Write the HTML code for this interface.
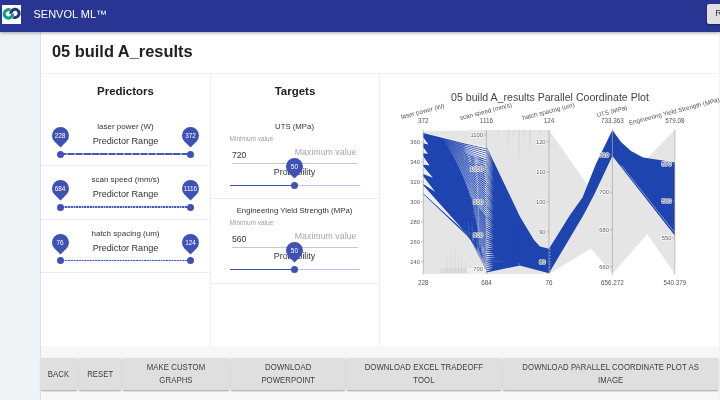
<!DOCTYPE html>
<html>
<head>
<meta charset="utf-8">
<style>
*{box-sizing:border-box;margin:0;padding:0}
html,body{width:720px;height:400px;overflow:hidden;background:#fafafa;font-family:"Liberation Sans",sans-serif;color:#212121}
.abs{position:absolute}
#wrap{position:absolute;left:0;top:0;width:720px;height:400px;overflow:hidden;will-change:transform;transform:translateZ(0)}
#hdr{left:0;top:0;width:720px;height:31.6px;background:#283593;box-shadow:0 1px 3px rgba(0,0,0,.35);z-index:5}
#logo{left:2px;top:5px;width:19px;height:19px;background:#fff}
#brand{left:33.5px;top:8.3px;font-size:11px;color:#fff;white-space:nowrap;line-height:12px}
#rbtn{left:707px;top:4px;width:20px;height:19.5px;background:#e0e0e0;border-radius:2px;box-shadow:0 1px 2px rgba(0,0,0,.4);font-size:9px;color:#333;line-height:19.5px;padding-left:8.3px}
#side{left:0;top:31px;width:720px;height:369px;background:#eff3f6}
#main{left:40.5px;top:31px;width:678px;height:315.3px;background:#fff}
#title{left:52px;top:41.3px;font-size:16.4px;font-weight:bold;line-height:20px;white-space:nowrap;color:#212121}
.hl{background:#ebebeb;height:1.1px}
.vl{background:#ededed;width:1.2px}
.ph{font-size:11.5px;font-weight:bold;line-height:14px;text-align:center;color:#212121}
.lbl{font-size:8px;line-height:10px;text-align:center;color:#333;white-space:nowrap}
.rng{font-size:9.1px;line-height:12px;text-align:center;color:#333;white-space:nowrap}
.pin{width:17px;height:17px;margin:-0.2px 0 0 -0.2px;border-radius:50% 50% 50% 0;background:#3f51b5;transform:rotate(-45deg)}
.pint{width:16.6px;height:16.6px;font-size:6.4px;line-height:16.6px;padding-top:0.8px;color:#fff;text-align:center}
.dot{width:7px;height:7px;margin:-0.2px 0 0 -0.2px;border-radius:50%;background:#3f51b5}
.trk{height:1.5px;margin-top:-0.15px}
.d1{background:repeating-linear-gradient(90deg,#4757b8 0,#4757b8 6.3px,#8f9ad5 6.3px,#8f9ad5 8.1px)}
.d2{background:repeating-linear-gradient(90deg,#4858b8 0,#4858b8 1.7px,#b4bbe3 1.7px,#b4bbe3 2.72px)}

.tl{font-size:7.8px;line-height:10px;text-align:center;color:#333;white-space:nowrap}
.mn{font-size:6.5px;line-height:8px;color:#a2a2a2;white-space:nowrap}
.val{font-size:9.8px;line-height:11px;color:#333;white-space:nowrap;transform:scaleX(0.88);transform-origin:0 0}
.mx{font-size:8.8px;line-height:11px;color:#a6a6a6;white-space:nowrap}
.ul{height:1px;background:#c9c9c9}
.pr{font-size:8.9px;line-height:11px;text-align:center;color:#333;white-space:nowrap}
.bt{display:inline-block;transform:scaleX(0.86);white-space:nowrap}
#bar{left:40.5px;top:346.2px;width:678px;height:54px;background:#f7f7f7}
.btn{top:357.6px;height:32.5px;background:#dfdfdf;border-radius:1px;box-shadow:0 1px 2px rgba(0,0,0,.35);font-size:9px;color:#3d3d3d;text-align:center;line-height:13.25px;padding-top:0.6px;display:flex;align-items:center;justify-content:center;letter-spacing:0.1px}
</style>
</head>
<body>
<div id="wrap">
<div id="side" class="abs"></div>
<div id="main" class="abs"></div>
<div id="hdr" class="abs">
  <div id="logo" class="abs">
    <svg width="19" height="19" viewBox="0 0 19 19">
      <path d="M11.08 12.02 A4.10 4.10 0 1 0 8.92 8.76" fill="none" stroke="#1c3b72" stroke-width="3.1"/>
      <path d="M8.37 5.19 A4.20 4.20 0 1 0 10.58 8.53" fill="none" stroke="#fff" stroke-width="3.9"/>
      <path d="M8.37 5.19 A4.20 4.20 0 1 0 10.58 8.53" fill="none" stroke="#1a9b85" stroke-width="3.2"/>
      <path d="M11.08 12.02 A4.10 4.10 0 1 0 8.92 8.76" fill="none" stroke="#fff" stroke-width="3.9" stroke-dasharray="0 17 8.5 100"/>
      <path d="M11.08 12.02 A4.10 4.10 0 1 0 8.92 8.76" fill="none" stroke="#1c3b72" stroke-width="3.1" stroke-dasharray="0 16.7 9.1 100"/>
    </svg>
  </div>
  <div id="brand" class="abs">SENVOL ML&#8482;</div>
  <div id="rbtn" class="abs">R</div>
</div>
<div id="title" class="abs">05 build A_results</div>

<!-- panel borders -->
<div class="abs hl" style="left:40.5px;top:73.2px;width:678px;background:#f1f1f1"></div>
<div class="abs" style="left:40px;top:31px;width:0.9px;height:369px;background:#dde0e3;z-index:3"></div>
<div class="abs vl" style="left:210px;top:73px;height:273px"></div>
<div class="abs vl" style="left:379px;top:73px;height:273px"></div>

<!-- Predictors -->
<div class="abs ph" style="left:41px;top:84px;width:169px">Predictors</div>
<div class="abs lbl" style="left:41px;top:122px;width:169px">laser power (W)</div>
<div class="abs rng" style="left:41px;top:135px;width:169px">Predictor Range</div>
<div class="abs hl" style="left:41px;top:165.4px;width:169px"></div>
<div class="abs lbl" style="left:41px;top:175px;width:169px">scan speed (mm/s)</div>
<div class="abs rng" style="left:41px;top:188px;width:169px">Predictor Range</div>
<div class="abs hl" style="left:41px;top:218.5px;width:169px"></div>
<div class="abs lbl" style="left:41px;top:228.5px;width:169px">hatch spacing (um)</div>
<div class="abs rng" style="left:41px;top:241.5px;width:169px">Predictor Range</div>
<div class="abs hl" style="left:41px;top:271.9px;width:169px"></div>

<!-- predictor sliders -->
<div class="abs trk d1" style="left:60px;top:153.4px;width:130.5px"></div>
<div class="abs pin" style="left:51.7px;top:127.1px"></div><div class="abs pint" style="left:51.7px;top:127.1px">228</div>
<div class="abs pin" style="left:182.2px;top:127.1px"></div><div class="abs pint" style="left:182.2px;top:127.1px">372</div>
<div class="abs dot" style="left:56.7px;top:150.7px"></div>
<div class="abs dot" style="left:187.2px;top:150.7px"></div>
<div class="abs trk d2" style="left:60px;top:206.6px;width:130.5px"></div>
<div class="abs pin" style="left:51.7px;top:180.4px"></div><div class="abs pint" style="left:51.7px;top:180.4px">684</div>
<div class="abs pin" style="left:182.2px;top:180.4px"></div><div class="abs pint" style="left:182.2px;top:180.4px">1116</div>
<div class="abs dot" style="left:56.7px;top:203.9px"></div>
<div class="abs dot" style="left:187.2px;top:203.9px"></div>
<div class="abs trk d2" style="left:60px;top:260.0px;width:130.5px"></div>
<div class="abs pin" style="left:51.7px;top:233.9px"></div><div class="abs pint" style="left:51.7px;top:233.9px">76</div>
<div class="abs pin" style="left:182.2px;top:233.9px"></div><div class="abs pint" style="left:182.2px;top:233.9px">124</div>
<div class="abs dot" style="left:56.7px;top:257.3px"></div>
<div class="abs dot" style="left:187.2px;top:257.3px"></div>
<!-- Targets -->
<div class="abs ph" style="left:211px;top:84px;width:168px">Targets</div>

<div class="abs tl" style="left:211px;top:121.7px;width:167px">UTS (MPa)</div>
<div class="abs mn" style="left:229.6px;top:134.8px">Minimum value</div>
<div class="abs val" style="left:232.2px;top:148.9px">720</div>
<div class="abs mx" style="left:294.8px;top:146.7px">Maximum value</div>
<div class="abs ul" style="left:231.5px;top:162.7px;width:126.5px"></div>
<div class="abs pr" style="left:211px;top:167.0px;width:167px">Probability</div>
<div class="abs" style="left:229.6px;top:185.0px;width:65px;height:1.1px;background:#3f51b5"></div>
<div class="abs" style="left:294.6px;top:185.0px;width:65.6px;height:1.1px;background:#c0c6ea"></div>
<div class="abs pin" style="left:286.1px;top:158.3px"></div><div class="abs pint" style="left:286.1px;top:158.3px">50</div>
<div class="abs dot" style="left:291.1px;top:182.3px"></div>
<div class="abs hl" style="left:211px;top:198.3px;width:168px"></div>
<div class="abs tl" style="left:211px;top:206.0px;width:167px">Engineering Yield Strength (MPa)</div>
<div class="abs mn" style="left:229.6px;top:219.1px">Minimum value</div>
<div class="abs val" style="left:232.2px;top:233.4px">560</div>
<div class="abs mx" style="left:294.8px;top:231.0px">Maximum value</div>
<div class="abs ul" style="left:231.5px;top:247.0px;width:126.5px"></div>
<div class="abs pr" style="left:211px;top:251.3px;width:167px">Probability</div>
<div class="abs" style="left:229.6px;top:269.3px;width:65px;height:1.1px;background:#3f51b5"></div>
<div class="abs" style="left:294.6px;top:269.3px;width:65.6px;height:1.1px;background:#c0c6ea"></div>
<div class="abs pin" style="left:286.1px;top:242.6px"></div><div class="abs pint" style="left:286.1px;top:242.6px">50</div>
<div class="abs dot" style="left:291.1px;top:266.6px"></div>
<div class="abs hl" style="left:211px;top:282.6px;width:168px"></div>
<!--CHART-->
<svg class="abs" style="left:0;top:0" width="720" height="400" viewBox="0 0 720 400" font-family="Liberation Sans, sans-serif">
<!--FILL-->
<polygon points="423.2,131.2 486.4,130.0 549.0,130.0 590.0,188.5 612.4,150.0 647.0,158.5 674.8,129.6 674.8,273.8 647.4,234.2 612.4,273.8 591.0,248.5 549.0,274.1 423.2,274.1" fill="#e5e5e5"/>
<defs><linearGradient id="sv" x1="0" y1="0" x2="0" y2="1"><stop offset="0" stop-color="#cfcfcf" stop-opacity="0.6"/><stop offset="1" stop-color="#cfcfcf" stop-opacity="0"/></linearGradient><linearGradient id="sv2" x1="0" y1="1" x2="0" y2="0"><stop offset="0" stop-color="#cdcdcd" stop-opacity="0.8"/><stop offset="1" stop-color="#cdcdcd" stop-opacity="0"/></linearGradient></defs>
<rect x="507.7" y="130" width="1.6" height="22" fill="url(#sv)"/>
<rect x="512.7" y="130" width="1.6" height="10" fill="url(#sv)"/>
<rect x="518.2" y="130" width="1.6" height="40" fill="url(#sv)"/>
<rect x="523.2" y="130" width="1.6" height="12" fill="url(#sv)"/>
<rect x="529.2" y="130" width="1.6" height="28" fill="url(#sv)"/>
<rect x="497.2" y="130" width="1.6" height="8" fill="url(#sv)"/>
<rect x="539.2" y="130" width="1.6" height="8" fill="url(#sv)"/>
<rect x="446.5" y="252.0" width="1.1" height="20" fill="url(#sv2)"/>
<rect x="450.5" y="246.0" width="1.1" height="26" fill="url(#sv2)"/>
<rect x="454.5" y="242.0" width="1.1" height="30" fill="url(#sv2)"/>
<rect x="458.0" y="248.0" width="1.1" height="24" fill="url(#sv2)"/>
<rect x="461.0" y="252.0" width="1.1" height="20" fill="url(#sv2)"/>
<rect x="464.5" y="258.0" width="1.1" height="14" fill="url(#sv2)"/>
<rect x="469.5" y="264.0" width="1.1" height="8" fill="url(#sv2)"/>
<rect x="440" y="268.5" width="41" height="4.5" fill="#d6d6d6" opacity="0.7"/>
<rect x="467" y="268" width="19" height="6" fill="#f2f2f2" opacity="0.8"/>
<polygon points="423.2,132.6 446.0,137.5 446.0,206.0 466.0,233.0 423.2,194.5" fill="#eff1fa"/>
<path d="M423.2,132.9L467.0,144.1L486.4,148.4L486.4,149.2L467.0,145.1L423.2,137.3ZM423.2,132.9L467.0,145.6L486.4,150.6L486.4,151.4L467.0,146.6L423.2,137.3ZM423.2,132.9L467.0,147.1L486.4,152.8L486.4,153.6L467.0,148.1L423.2,137.3ZM423.2,132.9L467.0,148.5L486.4,155.0L486.4,155.8L467.0,149.5L423.2,137.3ZM423.2,132.9L467.0,150.0L486.4,157.2L486.4,158.0L467.0,151.0L423.2,137.3ZM423.2,132.9L467.0,151.4L486.4,159.4L486.4,160.2L467.0,152.4L423.2,137.3ZM423.2,132.9L467.0,152.9L486.4,161.6L486.4,162.4L467.0,153.9L423.2,137.3ZM423.2,132.9L467.0,154.3L486.4,163.8L486.4,164.6L467.0,155.3L423.2,137.3ZM423.2,132.9L467.0,155.7L486.4,166.0L486.4,166.8L467.0,156.7L423.2,137.3ZM423.2,132.9L467.0,157.1L486.4,168.2L486.4,169.0L467.0,158.1L423.2,137.3ZM423.2,132.9L467.0,158.5L486.4,170.4L486.4,171.2L467.0,159.5L423.2,137.3ZM423.2,132.9L467.0,159.9L486.4,172.6L486.4,173.4L467.0,160.9L423.2,137.3ZM423.2,132.9L467.0,161.3L486.4,174.8L486.4,175.6L467.0,162.3L423.2,137.3ZM423.2,132.9L467.0,162.6L486.4,177.0L486.4,177.8L467.0,163.6L423.2,137.3ZM423.2,132.9L467.0,164.0L486.4,179.2L486.4,180.0L467.0,165.0L423.2,137.3ZM423.2,132.9L467.0,165.3L486.4,181.4L486.4,182.2L467.0,166.3L423.2,137.3ZM423.2,132.9L467.0,166.7L486.4,183.6L486.4,184.4L467.0,167.7L423.2,137.3ZM423.2,132.9L467.0,168.0L486.4,185.8L486.4,186.6L467.0,169.0L423.2,137.3ZM423.2,132.9L467.0,169.3L486.4,188.0L486.4,188.8L467.0,170.3L423.2,137.3ZM423.2,132.9L467.0,170.6L486.4,190.2L486.4,191.0L467.0,171.6L423.2,137.3ZM423.2,132.9L467.0,171.9L486.4,192.4L486.4,193.2L467.0,172.9L423.2,137.3ZM423.2,132.9L467.0,173.2L486.4,194.6L486.4,195.4L467.0,174.2L423.2,137.3ZM423.2,132.9L467.0,174.5L486.4,196.8L486.4,197.6L467.0,175.5L423.2,137.3ZM423.2,132.9L467.0,175.7L486.4,199.0L486.4,199.8L467.0,176.7L423.2,137.3ZM423.2,132.9L467.0,177.0L486.4,201.2L486.4,202.0L467.0,178.0L423.2,137.3ZM423.2,132.9L467.0,178.2L486.4,203.4L486.4,204.2L467.0,179.2L423.2,137.3ZM423.2,132.9L467.0,179.5L486.4,205.6L486.4,206.4L467.0,180.5L423.2,137.3ZM423.2,132.9L467.0,180.7L486.4,207.8L486.4,208.6L467.0,181.7L423.2,137.3ZM423.2,132.9L467.0,181.9L486.4,210.0L486.4,210.8L467.0,182.9L423.2,137.3ZM423.2,132.9L467.0,183.1L486.4,212.2L486.4,213.0L467.0,184.1L423.2,137.3ZM423.2,132.9L467.0,184.3L486.4,214.4L486.4,215.2L467.0,185.3L423.2,137.3ZM423.2,132.9L467.0,185.5L486.4,216.6L486.4,217.4L467.0,186.5L423.2,137.3ZM423.2,132.9L467.0,186.6L486.4,218.8L486.4,219.6L467.0,187.6L423.2,137.3ZM423.2,132.9L467.0,187.8L486.4,221.0L486.4,221.8L467.0,188.8L423.2,137.3ZM423.2,132.9L467.0,188.9L486.4,223.2L486.4,224.0L467.0,189.9L423.2,137.3ZM423.2,132.9L467.0,190.1L486.4,225.4L486.4,226.2L467.0,191.1L423.2,137.3ZM423.2,132.9L467.0,191.2L486.4,227.6L486.4,228.4L467.0,192.2L423.2,137.3ZM423.2,132.9L467.0,192.3L486.4,229.8L486.4,230.6L467.0,193.3L423.2,137.3ZM423.2,132.9L467.0,193.4L486.4,232.0L486.4,232.8L467.0,194.4L423.2,137.3ZM423.2,132.9L467.0,194.5L486.4,234.2L486.4,235.0L467.0,195.5L423.2,137.3ZM423.2,132.9L467.0,195.6L486.4,236.4L486.4,237.2L467.0,196.6L423.2,137.3ZM423.2,132.9L467.0,196.7L486.4,238.6L486.4,239.4L467.0,197.7L423.2,137.3ZM423.2,143.3L467.0,154.8L486.4,159.4L486.4,160.2L467.0,155.8L423.2,147.0ZM423.2,143.3L467.0,156.3L486.4,161.6L486.4,162.4L467.0,157.3L423.2,147.0ZM423.2,143.3L467.0,157.8L486.4,163.8L486.4,164.6L467.0,158.8L423.2,147.0ZM423.2,143.3L467.0,159.2L486.4,166.0L486.4,166.8L467.0,160.2L423.2,147.0ZM423.2,143.3L467.0,160.7L486.4,168.2L486.4,169.0L467.0,161.7L423.2,147.0ZM423.2,143.3L467.0,162.1L486.4,170.4L486.4,171.2L467.0,163.1L423.2,147.0ZM423.2,143.3L467.0,163.6L486.4,172.6L486.4,173.4L467.0,164.6L423.2,147.0ZM423.2,143.3L467.0,165.0L486.4,174.8L486.4,175.6L467.0,166.0L423.2,147.0ZM423.2,143.3L467.0,166.4L486.4,177.0L486.4,177.8L467.0,167.4L423.2,147.0ZM423.2,143.3L467.0,167.8L486.4,179.2L486.4,180.0L467.0,168.8L423.2,147.0ZM423.2,143.3L467.0,169.2L486.4,181.4L486.4,182.2L467.0,170.2L423.2,147.0ZM423.2,143.3L467.0,170.6L486.4,183.6L486.4,184.4L467.0,171.6L423.2,147.0ZM423.2,143.3L467.0,171.9L486.4,185.8L486.4,186.6L467.0,172.9L423.2,147.0ZM423.2,143.3L467.0,173.3L486.4,188.0L486.4,188.8L467.0,174.3L423.2,147.0ZM423.2,143.3L467.0,174.6L486.4,190.2L486.4,191.0L467.0,175.6L423.2,147.0ZM423.2,143.3L467.0,176.0L486.4,192.4L486.4,193.2L467.0,177.0L423.2,147.0ZM423.2,143.3L467.0,177.3L486.4,194.6L486.4,195.4L467.0,178.3L423.2,147.0ZM423.2,143.3L467.0,178.6L486.4,196.8L486.4,197.6L467.0,179.6L423.2,147.0ZM423.2,143.3L467.0,179.9L486.4,199.0L486.4,199.8L467.0,180.9L423.2,147.0ZM423.2,143.3L467.0,181.2L486.4,201.2L486.4,202.0L467.0,182.2L423.2,147.0ZM423.2,143.3L467.0,182.5L486.4,203.4L486.4,204.2L467.0,183.5L423.2,147.0ZM423.2,143.3L467.0,183.8L486.4,205.6L486.4,206.4L467.0,184.8L423.2,147.0ZM423.2,143.3L467.0,185.1L486.4,207.8L486.4,208.6L467.0,186.1L423.2,147.0ZM423.2,143.3L467.0,186.3L486.4,210.0L486.4,210.8L467.0,187.3L423.2,147.0ZM423.2,143.3L467.0,187.6L486.4,212.2L486.4,213.0L467.0,188.6L423.2,147.0ZM423.2,143.3L467.0,188.8L486.4,214.4L486.4,215.2L467.0,189.8L423.2,147.0ZM423.2,143.3L467.0,190.1L486.4,216.6L486.4,217.4L467.0,191.1L423.2,147.0ZM423.2,143.3L467.0,191.3L486.4,218.8L486.4,219.6L467.0,192.3L423.2,147.0ZM423.2,143.3L467.0,192.5L486.4,221.0L486.4,221.8L467.0,193.5L423.2,147.0ZM423.2,143.3L467.0,193.7L486.4,223.2L486.4,224.0L467.0,194.7L423.2,147.0ZM423.2,143.3L467.0,194.9L486.4,225.4L486.4,226.2L467.0,195.9L423.2,147.0ZM423.2,143.3L467.0,196.0L486.4,227.6L486.4,228.4L467.0,197.0L423.2,147.0ZM423.2,143.3L467.0,197.2L486.4,229.8L486.4,230.6L467.0,198.2L423.2,147.0ZM423.2,143.3L467.0,198.4L486.4,232.0L486.4,232.8L467.0,199.4L423.2,147.0ZM423.2,143.3L467.0,199.5L486.4,234.2L486.4,235.0L467.0,200.5L423.2,147.0ZM423.2,143.3L467.0,200.7L486.4,236.4L486.4,237.2L467.0,201.7L423.2,147.0ZM423.2,143.3L467.0,201.8L486.4,238.6L486.4,239.4L467.0,202.8L423.2,147.0ZM423.2,143.3L467.0,202.9L486.4,240.8L486.4,241.6L467.0,203.9L423.2,147.0ZM423.2,143.3L467.0,204.0L486.4,243.0L486.4,243.8L467.0,205.0L423.2,147.0ZM423.2,143.3L467.0,205.1L486.4,245.2L486.4,246.0L467.0,206.1L423.2,147.0ZM423.2,143.3L467.0,206.2L486.4,247.4L486.4,248.2L467.0,207.2L423.2,147.0ZM423.2,143.3L467.0,207.3L486.4,249.6L486.4,250.4L467.0,208.3L423.2,147.0ZM423.2,143.3L467.0,208.3L486.4,251.8L486.4,252.6L467.0,209.3L423.2,147.0ZM423.2,143.3L467.0,209.4L486.4,254.0L486.4,254.8L467.0,210.4L423.2,147.0ZM423.2,152.9L467.0,162.3L486.4,166.0L486.4,166.8L467.0,163.3L423.2,156.2ZM423.2,152.9L467.0,163.8L486.4,168.2L486.4,169.0L467.0,164.8L423.2,156.2ZM423.2,152.9L467.0,165.3L486.4,170.4L486.4,171.2L467.0,166.3L423.2,156.2ZM423.2,152.9L467.0,166.8L486.4,172.6L486.4,173.4L467.0,167.8L423.2,156.2ZM423.2,152.9L467.0,168.2L486.4,174.8L486.4,175.6L467.0,169.2L423.2,156.2ZM423.2,152.9L467.0,169.7L486.4,177.0L486.4,177.8L467.0,170.7L423.2,156.2ZM423.2,152.9L467.0,171.1L486.4,179.2L486.4,180.0L467.0,172.1L423.2,156.2ZM423.2,152.9L467.0,172.6L486.4,181.4L486.4,182.2L467.0,173.6L423.2,156.2ZM423.2,152.9L467.0,174.0L486.4,183.6L486.4,184.4L467.0,175.0L423.2,156.2ZM423.2,152.9L467.0,175.4L486.4,185.8L486.4,186.6L467.0,176.4L423.2,156.2ZM423.2,152.9L467.0,176.8L486.4,188.0L486.4,188.8L467.0,177.8L423.2,156.2ZM423.2,152.9L467.0,178.2L486.4,190.2L486.4,191.0L467.0,179.2L423.2,156.2ZM423.2,152.9L467.0,179.6L486.4,192.4L486.4,193.2L467.0,180.6L423.2,156.2ZM423.2,152.9L467.0,181.0L486.4,194.6L486.4,195.4L467.0,182.0L423.2,156.2ZM423.2,152.9L467.0,182.3L486.4,196.8L486.4,197.6L467.0,183.3L423.2,156.2ZM423.2,152.9L467.0,183.7L486.4,199.0L486.4,199.8L467.0,184.7L423.2,156.2ZM423.2,152.9L467.0,185.0L486.4,201.2L486.4,202.0L467.0,186.0L423.2,156.2ZM423.2,152.9L467.0,186.4L486.4,203.4L486.4,204.2L467.0,187.4L423.2,156.2ZM423.2,152.9L467.0,187.7L486.4,205.6L486.4,206.4L467.0,188.7L423.2,156.2ZM423.2,152.9L467.0,189.0L486.4,207.8L486.4,208.6L467.0,190.0L423.2,156.2ZM423.2,152.9L467.0,190.3L486.4,210.0L486.4,210.8L467.0,191.3L423.2,156.2ZM423.2,152.9L467.0,191.6L486.4,212.2L486.4,213.0L467.0,192.6L423.2,156.2ZM423.2,152.9L467.0,192.9L486.4,214.4L486.4,215.2L467.0,193.9L423.2,156.2ZM423.2,152.9L467.0,194.1L486.4,216.6L486.4,217.4L467.0,195.1L423.2,156.2ZM423.2,152.9L467.0,195.4L486.4,218.8L486.4,219.6L467.0,196.4L423.2,156.2ZM423.2,152.9L467.0,196.7L486.4,221.0L486.4,221.8L467.0,197.7L423.2,156.2ZM423.2,152.9L467.0,197.9L486.4,223.2L486.4,224.0L467.0,198.9L423.2,156.2ZM423.2,152.9L467.0,199.1L486.4,225.4L486.4,226.2L467.0,200.1L423.2,156.2ZM423.2,152.9L467.0,200.3L486.4,227.6L486.4,228.4L467.0,201.3L423.2,156.2ZM423.2,152.9L467.0,201.6L486.4,229.8L486.4,230.6L467.0,202.6L423.2,156.2ZM423.2,152.9L467.0,202.8L486.4,232.0L486.4,232.8L467.0,203.8L423.2,156.2ZM423.2,152.9L467.0,203.9L486.4,234.2L486.4,235.0L467.0,204.9L423.2,156.2ZM423.2,152.9L467.0,205.1L486.4,236.4L486.4,237.2L467.0,206.1L423.2,156.2ZM423.2,152.9L467.0,206.3L486.4,238.6L486.4,239.4L467.0,207.3L423.2,156.2ZM423.2,152.9L467.0,207.5L486.4,240.8L486.4,241.6L467.0,208.5L423.2,156.2ZM423.2,152.9L467.0,208.6L486.4,243.0L486.4,243.8L467.0,209.6L423.2,156.2ZM423.2,152.9L467.0,209.7L486.4,245.2L486.4,246.0L467.0,210.7L423.2,156.2ZM423.2,152.9L467.0,210.9L486.4,247.4L486.4,248.2L467.0,211.9L423.2,156.2ZM423.2,152.9L467.0,212.0L486.4,249.6L486.4,250.4L467.0,213.0L423.2,156.2ZM423.2,152.9L467.0,213.1L486.4,251.8L486.4,252.6L467.0,214.1L423.2,156.2ZM423.2,152.9L467.0,214.2L486.4,254.0L486.4,254.8L467.0,215.2L423.2,156.2ZM423.2,152.9L467.0,215.3L486.4,256.2L486.4,257.0L467.0,216.3L423.2,156.2ZM423.2,152.9L467.0,216.4L486.4,258.4L486.4,259.2L467.0,217.4L423.2,156.2ZM423.2,152.9L467.0,217.4L486.4,260.6L486.4,261.4L467.0,218.4L423.2,156.2ZM423.2,152.9L467.0,218.5L486.4,262.8L486.4,263.6L467.0,219.5L423.2,156.2ZM423.2,152.9L467.0,219.5L486.4,265.0L486.4,265.8L467.0,220.5L423.2,156.2ZM423.2,164.5L467.0,171.7L486.4,174.8L486.4,175.6L467.0,172.7L423.2,166.3ZM423.2,164.5L467.0,173.2L486.4,177.0L486.4,177.8L467.0,174.2L423.2,166.3ZM423.2,164.5L467.0,174.7L486.4,179.2L486.4,180.0L467.0,175.7L423.2,166.3ZM423.2,164.5L467.0,176.2L486.4,181.4L486.4,182.2L467.0,177.2L423.2,166.3ZM423.2,164.5L467.0,177.7L486.4,183.6L486.4,184.4L467.0,178.7L423.2,166.3ZM423.2,164.5L467.0,179.2L486.4,185.8L486.4,186.6L467.0,180.2L423.2,166.3ZM423.2,164.5L467.0,180.6L486.4,188.0L486.4,188.8L467.0,181.6L423.2,166.3ZM423.2,164.5L467.0,182.1L486.4,190.2L486.4,191.0L467.0,183.1L423.2,166.3ZM423.2,164.5L467.0,183.5L486.4,192.4L486.4,193.2L467.0,184.5L423.2,166.3ZM423.2,164.5L467.0,184.9L486.4,194.6L486.4,195.4L467.0,185.9L423.2,166.3ZM423.2,164.5L467.0,186.3L486.4,196.8L486.4,197.6L467.0,187.3L423.2,166.3ZM423.2,164.5L467.0,187.7L486.4,199.0L486.4,199.8L467.0,188.7L423.2,166.3ZM423.2,164.5L467.0,189.1L486.4,201.2L486.4,202.0L467.0,190.1L423.2,166.3ZM423.2,164.5L467.0,190.5L486.4,203.4L486.4,204.2L467.0,191.5L423.2,166.3ZM423.2,164.5L467.0,191.9L486.4,205.6L486.4,206.4L467.0,192.9L423.2,166.3ZM423.2,164.5L467.0,193.2L486.4,207.8L486.4,208.6L467.0,194.2L423.2,166.3ZM423.2,164.5L467.0,194.6L486.4,210.0L486.4,210.8L467.0,195.6L423.2,166.3ZM423.2,164.5L467.0,195.9L486.4,212.2L486.4,213.0L467.0,196.9L423.2,166.3ZM423.2,164.5L467.0,197.3L486.4,214.4L486.4,215.2L467.0,198.3L423.2,166.3ZM423.2,164.5L467.0,198.6L486.4,216.6L486.4,217.4L467.0,199.6L423.2,166.3ZM423.2,164.5L467.0,199.9L486.4,218.8L486.4,219.6L467.0,200.9L423.2,166.3ZM423.2,164.5L467.0,201.2L486.4,221.0L486.4,221.8L467.0,202.2L423.2,166.3ZM423.2,164.5L467.0,202.5L486.4,223.2L486.4,224.0L467.0,203.5L423.2,166.3ZM423.2,164.5L467.0,203.8L486.4,225.4L486.4,226.2L467.0,204.8L423.2,166.3ZM423.2,164.5L467.0,205.1L486.4,227.6L486.4,228.4L467.0,206.1L423.2,166.3ZM423.2,164.5L467.0,206.3L486.4,229.8L486.4,230.6L467.0,207.3L423.2,166.3ZM423.2,164.5L467.0,207.6L486.4,232.0L486.4,232.8L467.0,208.6L423.2,166.3ZM423.2,164.5L467.0,208.8L486.4,234.2L486.4,235.0L467.0,209.8L423.2,166.3ZM423.2,164.5L467.0,210.0L486.4,236.4L486.4,237.2L467.0,211.0L423.2,166.3ZM423.2,164.5L467.0,211.3L486.4,238.6L486.4,239.4L467.0,212.3L423.2,166.3ZM423.2,164.5L467.0,212.5L486.4,240.8L486.4,241.6L467.0,213.5L423.2,166.3ZM423.2,164.5L467.0,213.7L486.4,243.0L486.4,243.8L467.0,214.7L423.2,166.3ZM423.2,164.5L467.0,214.9L486.4,245.2L486.4,246.0L467.0,215.9L423.2,166.3ZM423.2,164.5L467.0,216.0L486.4,247.4L486.4,248.2L467.0,217.0L423.2,166.3ZM423.2,164.5L467.0,217.2L486.4,249.6L486.4,250.4L467.0,218.2L423.2,166.3ZM423.2,174.1L467.0,191.2L486.4,199.0L486.4,199.8L467.0,192.2L423.2,176.3ZM423.2,174.1L467.0,192.6L486.4,201.2L486.4,202.0L467.0,193.6L423.2,176.3ZM423.2,174.1L467.0,194.1L486.4,203.4L486.4,204.2L467.0,195.1L423.2,176.3ZM423.2,174.1L467.0,195.5L486.4,205.6L486.4,206.4L467.0,196.5L423.2,176.3ZM423.2,174.1L467.0,196.9L486.4,207.8L486.4,208.6L467.0,197.9L423.2,176.3ZM423.2,174.1L467.0,198.3L486.4,210.0L486.4,210.8L467.0,199.3L423.2,176.3ZM423.2,174.1L467.0,199.7L486.4,212.2L486.4,213.0L467.0,200.7L423.2,176.3ZM423.2,174.1L467.0,201.1L486.4,214.4L486.4,215.2L467.0,202.1L423.2,176.3ZM423.2,174.1L467.0,202.4L486.4,216.6L486.4,217.4L467.0,203.4L423.2,176.3ZM423.2,174.1L467.0,203.8L486.4,218.8L486.4,219.6L467.0,204.8L423.2,176.3ZM423.2,174.1L467.0,205.1L486.4,221.0L486.4,221.8L467.0,206.1L423.2,176.3ZM423.2,174.1L467.0,206.5L486.4,223.2L486.4,224.0L467.0,207.5L423.2,176.3ZM423.2,174.1L467.0,207.8L486.4,225.4L486.4,226.2L467.0,208.8L423.2,176.3ZM423.2,174.1L467.0,209.1L486.4,227.6L486.4,228.4L467.0,210.1L423.2,176.3ZM423.2,174.1L467.0,210.4L486.4,229.8L486.4,230.6L467.0,211.4L423.2,176.3ZM423.2,174.1L467.0,211.7L486.4,232.0L486.4,232.8L467.0,212.7L423.2,176.3ZM423.2,174.1L467.0,213.0L486.4,234.2L486.4,235.0L467.0,214.0L423.2,176.3ZM423.2,174.1L467.0,214.3L486.4,236.4L486.4,237.2L467.0,215.3L423.2,176.3ZM423.2,174.1L467.0,215.5L486.4,238.6L486.4,239.4L467.0,216.5L423.2,176.3ZM423.2,174.1L467.0,216.8L486.4,240.8L486.4,241.6L467.0,217.8L423.2,176.3ZM423.2,174.1L467.0,218.0L486.4,243.0L486.4,243.8L467.0,219.0L423.2,176.3ZM423.2,174.1L467.0,219.3L486.4,245.2L486.4,246.0L467.0,220.3L423.2,176.3ZM423.2,174.1L467.0,220.5L486.4,247.4L486.4,248.2L467.0,221.5L423.2,176.3ZM423.2,174.1L467.0,221.7L486.4,249.6L486.4,250.4L467.0,222.7L423.2,176.3ZM423.2,174.1L467.0,222.9L486.4,251.8L486.4,252.6L467.0,223.9L423.2,176.3ZM423.2,174.1L467.0,224.1L486.4,254.0L486.4,254.8L467.0,225.1L423.2,176.3ZM423.2,174.1L467.0,225.3L486.4,256.2L486.4,257.0L467.0,226.3L423.2,176.3ZM423.2,174.1L467.0,226.5L486.4,258.4L486.4,259.2L467.0,227.5L423.2,176.3ZM423.2,174.1L467.0,227.6L486.4,260.6L486.4,261.4L467.0,228.6L423.2,176.3ZM423.2,174.1L467.0,228.8L486.4,262.8L486.4,263.6L467.0,229.8L423.2,176.3ZM423.2,174.1L467.0,229.9L486.4,265.0L486.4,265.8L467.0,230.9L423.2,176.3ZM423.2,174.1L467.0,231.1L486.4,267.2L486.4,268.0L467.0,232.1L423.2,176.3ZM423.2,174.1L467.0,232.2L486.4,269.4L486.4,270.2L467.0,233.2L423.2,176.3ZM423.2,183.9L467.0,212.8L486.4,227.6L486.4,228.4L467.0,213.8L423.2,185.2ZM423.2,183.9L467.0,214.2L486.4,229.8L486.4,230.6L467.0,215.2L423.2,185.2ZM423.2,183.9L467.0,215.5L486.4,232.0L486.4,232.8L467.0,216.5L423.2,185.2ZM423.2,183.9L467.0,216.8L486.4,234.2L486.4,235.0L467.0,217.8L423.2,185.2ZM423.2,183.9L467.0,218.2L486.4,236.4L486.4,237.2L467.0,219.2L423.2,185.2ZM423.2,183.9L467.0,219.5L486.4,238.6L486.4,239.4L467.0,220.5L423.2,185.2ZM423.2,183.9L467.0,220.8L486.4,240.8L486.4,241.6L467.0,221.8L423.2,185.2ZM423.2,183.9L467.0,222.1L486.4,243.0L486.4,243.8L467.0,223.1L423.2,185.2ZM423.2,183.9L467.0,223.3L486.4,245.2L486.4,246.0L467.0,224.3L423.2,185.2ZM423.2,183.9L467.0,224.6L486.4,247.4L486.4,248.2L467.0,225.6L423.2,185.2ZM423.2,183.9L467.0,225.9L486.4,249.6L486.4,250.4L467.0,226.9L423.2,185.2ZM423.2,183.9L467.0,227.1L486.4,251.8L486.4,252.6L467.0,228.1L423.2,185.2ZM423.2,183.9L467.0,228.3L486.4,254.0L486.4,254.8L467.0,229.3L423.2,185.2ZM423.2,183.9L467.0,229.6L486.4,256.2L486.4,257.0L467.0,230.6L423.2,185.2ZM423.2,183.9L467.0,230.8L486.4,258.4L486.4,259.2L467.0,231.8L423.2,185.2ZM423.2,183.9L467.0,232.0L486.4,260.6L486.4,261.4L467.0,233.0L423.2,185.2ZM423.2,183.9L467.0,233.2L486.4,262.8L486.4,263.6L467.0,234.2L423.2,185.2ZM423.2,193.2L467.0,233.5L486.4,256.2L486.4,257.0L467.0,234.5L423.2,193.9ZM423.2,193.2L467.0,234.7L486.4,258.4L486.4,259.2L467.0,235.7L423.2,193.9Z" fill="#1e44af"/>
<defs><linearGradient id="fd" gradientUnits="userSpaceOnUse" x1="440" y1="0" x2="486.4" y2="0"><stop offset="0" stop-color="#fff" stop-opacity="0"/><stop offset="0.55" stop-color="#fff" stop-opacity="0.45"/><stop offset="1" stop-color="#fff" stop-opacity="0.8"/></linearGradient></defs>
<path d="M442.0,137.9L486.2,147.7M442.9,139.4L486.2,149.9M443.8,140.8L486.2,152.1M444.7,142.2L486.2,154.3M445.6,143.7L486.2,156.5M446.5,145.1L486.2,158.7M447.4,146.6L486.2,160.9M448.3,148.1L486.2,163.1M449.2,149.6L486.2,165.3M450.1,151.2L486.2,167.5M451.0,152.7L486.2,169.7M451.9,154.3L486.2,171.9M452.8,155.9L486.2,174.1M453.7,157.5L486.2,176.3M454.6,159.2L486.2,178.5M455.5,160.9L486.2,180.7M456.4,162.7L486.2,182.9M457.3,164.5L486.2,185.1M458.2,166.3L486.2,187.3M459.1,168.1L486.2,189.5M460.0,170.1L486.2,191.7M460.9,172.0L486.2,193.9M461.8,174.0L486.2,196.1M462.7,176.1L486.2,198.3M463.6,178.2L486.2,200.5M464.5,180.4L486.2,202.7M465.4,182.6L486.2,204.9M466.3,184.9L486.2,207.1M467.2,187.2L486.2,209.3M468.1,189.6L486.2,211.5M469.0,192.1L486.2,213.7M469.9,194.7L486.2,215.9" stroke="url(#fd)" stroke-width="0.95" fill="none"/>
<path d="M471.0,197.6L486.2,218.1M471.5,199.7L486.2,220.3M472.0,201.9L486.2,222.5M472.5,204.1L486.2,224.7M473.0,206.4L486.2,226.9M473.5,208.7L486.2,229.1M474.0,211.0L486.2,231.3M474.5,213.4L486.2,233.5M475.0,215.9L486.2,235.7M475.5,218.3L486.2,237.9M476.0,220.9L486.2,240.1M476.5,223.4L486.2,242.3M477.0,226.1L486.2,244.5M477.5,228.7L486.2,246.7M478.0,231.4L486.2,248.9M478.5,234.2L486.2,251.1M479.0,237.0L486.2,253.3M479.5,239.9L486.2,255.5M480.0,242.9L486.2,257.7M480.5,245.8L486.2,259.9M481.0,248.9L486.2,262.1M481.0,250.7L486.2,264.3" stroke="#fff" stroke-opacity="0.5" stroke-width="0.6" fill="none"/>
<path d="M486.4,146.2L520.0,216.8L520.0,222.8L486.4,147.0ZM486.4,148.4L520.0,217.5L520.0,223.5L486.4,149.2ZM486.4,150.6L520.0,218.3L520.0,224.3L486.4,151.4ZM486.4,152.8L520.0,219.0L520.0,225.0L486.4,153.6ZM486.4,155.0L520.0,219.8L520.0,225.8L486.4,155.8ZM486.4,157.2L520.0,220.5L520.0,226.5L486.4,158.0ZM486.4,159.4L520.0,221.3L520.0,227.3L486.4,160.2ZM486.4,161.6L520.0,222.0L520.0,228.0L486.4,162.4ZM486.4,163.8L520.0,222.8L520.0,228.8L486.4,164.6ZM486.4,166.0L520.0,223.5L520.0,229.5L486.4,166.8ZM486.4,168.2L520.0,224.3L520.0,230.3L486.4,169.0ZM486.4,170.4L520.0,225.0L520.0,231.0L486.4,171.2ZM486.4,172.6L520.0,225.8L520.0,231.8L486.4,173.4ZM486.4,174.8L520.0,226.5L520.0,232.5L486.4,175.6ZM486.4,177.0L520.0,227.3L520.0,233.3L486.4,177.8ZM486.4,179.2L520.0,228.0L520.0,234.0L486.4,180.0ZM486.4,181.4L520.0,228.8L520.0,234.8L486.4,182.2ZM486.4,183.6L520.0,229.5L520.0,235.5L486.4,184.4ZM486.4,185.8L520.0,230.3L520.0,236.3L486.4,186.6ZM486.4,188.0L520.0,231.0L520.0,237.0L486.4,188.8ZM486.4,190.2L520.0,231.8L520.0,237.8L486.4,191.0ZM486.4,192.4L520.0,232.5L520.0,238.5L486.4,193.2ZM486.4,194.6L520.0,233.3L520.0,239.3L486.4,195.4ZM486.4,196.8L520.0,234.0L520.0,240.0L486.4,197.6ZM486.4,199.0L520.0,234.8L520.0,240.8L486.4,199.8ZM486.4,201.2L520.0,235.5L520.0,241.5L486.4,202.0ZM486.4,203.4L520.0,236.3L520.0,242.3L486.4,204.2ZM486.4,205.6L520.0,237.0L520.0,243.0L486.4,206.4ZM486.4,207.8L520.0,237.8L520.0,243.8L486.4,208.6ZM486.4,210.0L520.0,238.5L520.0,244.5L486.4,210.8ZM486.4,212.2L520.0,239.3L520.0,245.3L486.4,213.0ZM486.4,214.4L520.0,240.0L520.0,246.0L486.4,215.2ZM486.4,216.6L520.0,240.8L520.0,246.8L486.4,217.4ZM486.4,218.8L520.0,241.5L520.0,247.5L486.4,219.6ZM486.4,221.0L520.0,242.3L520.0,248.3L486.4,221.8ZM486.4,223.2L520.0,243.0L520.0,249.0L486.4,224.0ZM486.4,225.4L520.0,243.8L520.0,249.8L486.4,226.2ZM486.4,227.6L520.0,244.5L520.0,250.5L486.4,228.4ZM486.4,229.8L520.0,245.3L520.0,251.3L486.4,230.6ZM486.4,232.0L520.0,246.0L520.0,252.0L486.4,232.8ZM486.4,234.2L520.0,246.8L520.0,252.8L486.4,235.0ZM486.4,236.4L520.0,247.5L520.0,253.5L486.4,237.2ZM486.4,238.6L520.0,248.3L520.0,254.3L486.4,239.4ZM486.4,240.8L520.0,249.0L520.0,255.0L486.4,241.6ZM486.4,243.0L520.0,249.8L520.0,255.8L486.4,243.8ZM486.4,245.2L520.0,250.5L520.0,256.5L486.4,246.0ZM486.4,247.4L520.0,251.3L520.0,257.3L486.4,248.2ZM486.4,249.6L520.0,252.0L520.0,258.0L486.4,250.4ZM486.4,251.8L520.0,252.8L520.0,258.8L486.4,252.6ZM486.4,254.0L520.0,253.5L520.0,259.5L486.4,254.8ZM486.4,256.2L520.0,254.3L520.0,260.3L486.4,257.0ZM486.4,258.4L520.0,255.0L520.0,261.0L486.4,259.2ZM486.4,260.6L520.0,255.8L520.0,261.8L486.4,261.4ZM486.4,262.8L520.0,256.5L520.0,262.5L486.4,263.6ZM486.4,265.0L520.0,257.3L520.0,263.3L486.4,265.8ZM486.4,267.2L520.0,258.0L520.0,264.0L486.4,268.0ZM486.4,269.4L520.0,258.8L520.0,264.8L486.4,270.2ZM486.4,271.6L520.0,259.5L520.0,265.5L486.4,272.4Z" fill="#1e44af"/>
<polygon points="519.7,216.2 534.0,240.0 540.0,246.6 549.0,248.8 549.0,273.2 519.7,265.5" fill="#1e44af"/>
<polygon points="549.0,248.8 570.0,215.0 582.5,197.5 596.0,163.8 612.4,130.0 612.4,156.0 594.0,195.0 583.5,215.0 549.0,273.2" fill="#1e44af"/>
<polygon points="612.4,130.0 621.0,142.0 631.0,151.0 643.0,157.6 661.0,160.3 674.8,162.6 674.8,235.4 612.4,156.0" fill="#1e44af"/>
<path d="M621.5,165.6 L673.8,231.5" stroke="#fff" stroke-width="0.5" fill="none" opacity="0.85"/>
<polygon points="549.3,270.7 551.2,270.1 549.3,269.6" fill="#c3cbec"/>
<polygon points="549.3,267.7 551.2,267.1 549.3,266.6" fill="#c3cbec"/>
<polygon points="549.3,264.7 551.2,264.1 549.3,263.6" fill="#c3cbec"/>
<polygon points="549.3,261.8 551.2,261.2 549.3,260.7" fill="#c3cbec"/>
<polygon points="549.3,258.8 551.2,258.2 549.3,257.7" fill="#c3cbec"/>
<polygon points="549.3,255.8 551.2,255.2 549.3,254.7" fill="#c3cbec"/>
<polygon points="549.3,252.8 551.2,252.2 549.3,251.7" fill="#c3cbec"/>
<polygon points="549.3,249.8 551.2,249.2 549.3,248.7" fill="#c3cbec"/>
<!--/FILL-->
<!--LAB-->
<line x1="423.25" y1="129.8" x2="423.25" y2="274.3" stroke="#9a9a9a" stroke-width="0.6"/>
<line x1="486.40" y1="129.8" x2="486.40" y2="274.3" stroke="#9a9a9a" stroke-width="0.6"/>
<line x1="549.00" y1="129.8" x2="549.00" y2="274.3" stroke="#9a9a9a" stroke-width="0.6"/>
<line x1="612.40" y1="129.8" x2="612.40" y2="274.3" stroke="#9a9a9a" stroke-width="0.6"/>
<line x1="674.80" y1="129.8" x2="674.80" y2="274.3" stroke="#9a9a9a" stroke-width="0.6"/>
<path d="M423.25,261.8h-2.4M423.25,241.8h-2.4M423.25,221.8h-2.4M423.25,201.8h-2.4M423.25,181.8h-2.4M423.25,161.8h-2.4M423.25,141.8h-2.4M486.40,268.5h-2.4M486.40,235.1h-2.4M486.40,201.8h-2.4M486.40,168.5h-2.4M486.40,135.1h-2.4M549.00,261.8h-2.4M549.00,231.8h-2.4M549.00,201.8h-2.4M549.00,171.8h-2.4M549.00,141.8h-2.4M612.40,266.8h-2.4M612.40,229.5h-2.4M612.40,192.1h-2.4M612.40,154.8h-2.4M674.80,238.0h-2.4M674.80,200.8h-2.4M674.80,163.6h-2.4" stroke="#8a8a8a" stroke-width="0.5" fill="none"/>
<g font-size="5.8" fill="#606060" text-anchor="end" stroke="#fff" stroke-width="1.6" stroke-opacity="0.8" stroke-linejoin="round" paint-order="stroke"><text x="419.9" y="263.9">240</text><text x="419.9" y="243.9">260</text><text x="419.9" y="223.9">280</text><text x="419.9" y="203.9">300</text><text x="419.9" y="183.9">320</text><text x="419.9" y="163.9">340</text><text x="419.9" y="143.9">360</text><text x="483.0" y="270.5">700</text><text x="483.0" y="237.2">800</text><text x="483.0" y="203.9">900</text><text x="483.0" y="170.5">1000</text><text x="483.0" y="137.2">1100</text><text x="545.6" y="263.9">80</text><text x="545.6" y="233.9">90</text><text x="545.6" y="203.9">100</text><text x="545.6" y="173.9">110</text><text x="545.6" y="143.9">120</text><text x="609.0" y="268.9">660</text><text x="609.0" y="231.5">680</text><text x="609.0" y="194.2">700</text><text x="609.0" y="156.8">720</text><text x="671.4" y="240.1">550</text><text x="671.4" y="202.8">560</text><text x="671.4" y="165.6">570</text></g>
<g font-size="6.3" fill="#555" text-anchor="middle"><text x="423.2" y="123.4">372</text><text x="423.2" y="285.3">228</text><text transform="translate(423.2,113.4) rotate(-14.5)">laser power (W)</text><text x="486.4" y="123.4">1116</text><text x="486.4" y="285.3">684</text><text transform="translate(486.4,113.4) rotate(-14.5)">scan speed (mm/s)</text><text x="549.0" y="123.4">124</text><text x="549.0" y="285.3">76</text><text transform="translate(549.0,113.4) rotate(-14.5)">hatch spacing (um)</text><text x="612.4" y="123.4">733.363</text><text x="612.4" y="285.3">656.272</text><text transform="translate(612.4,113.4) rotate(-14.5)">UTS (MPa)</text><text x="674.8" y="123.4">579.08</text><text x="674.8" y="285.3">540.379</text><text transform="translate(674.8,113.4) rotate(-14.5)">Engineering Yield Strength (MPa)</text></g>
<text x="550" y="101.3" font-size="10.6" fill="#444" text-anchor="middle">05 build A_results Parallel Coordinate Plot</text>
<!--/LAB-->
</svg>
<!--/CHART-->
<!-- bottom bar -->
<div id="bar" class="abs"></div>
<div class="abs btn" style="left:41px;width:35.8px"><span class="bt">BACK</span></div>
<div class="abs btn" style="left:79.3px;width:41.3px"><span class="bt">RESET</span></div>
<div class="abs btn" style="left:122.5px;width:106.5px"><span class="bt">MAKE CUSTOM<br>GRAPHS</span></div>
<div class="abs btn" style="left:231px;width:114px"><span class="bt">DOWNLOAD<br>POWERPOINT</span></div>
<div class="abs btn" style="left:347px;width:153.7px"><span class="bt">DOWNLOAD EXCEL TRADEOFF<br>TOOL</span></div>
<div class="abs btn" style="left:502.8px;width:215.7px"><span class="bt">DOWNLOAD PARALLEL COORDINATE PLOT AS<br>IMAGE</span></div>
</div>
</body>
</html>
